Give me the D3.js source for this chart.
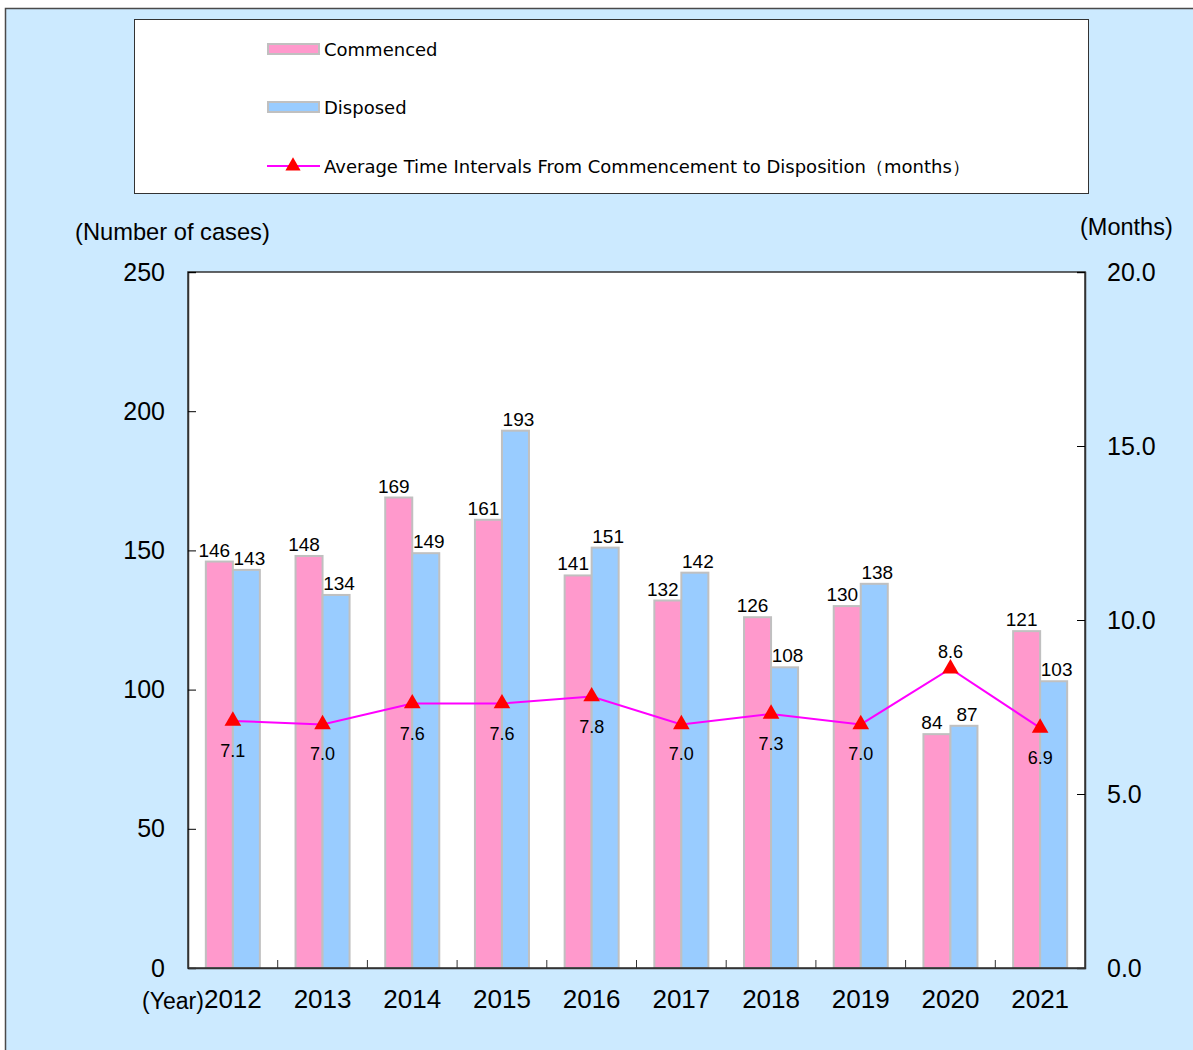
<!DOCTYPE html>
<html>
<head>
  <script src="https://d3js.org/d3.v7.min.js"></script>
  <style>
    body { margin: 0; background: #fff; }
    text { font-family: "Liberation Sans", Arial, sans-serif; fill: #000; }
  </style>
</head>
<body>
<div id="chart"></div>
<script>
  // chart values
  var years = ["2012", "2013", "2014", "2015", "2016", "2017", "2018", "2019", "2020", "2021"];
  var commenced = [146, 148, 169, 161, 141, 132, 126, 130, 84, 121];
  var disposed = [143, 134, 149, 193, 151, 142, 108, 138, 87, 103];
  var avgMonths = [7.1, 7.0, 7.6, 7.6, 7.8, 7.0, 7.3, 7.0, 8.6, 6.9];
  var leftTicks = [0, 50, 100, 150, 200, 250];
  var rightTicks = [0, 5, 10, 15, 20];

  var W = 1193, H = 1050;
  var plot = {left: 188, right: 1085, top: 272, bottom: 968};

  var svg = d3.select("#chart").append("svg")
    .attr("width", W)
    .attr("height", H);

  // background panel
  svg.append("rect")
    .attr("x", 5.5).attr("y", 8.5)
    .attr("width", W + 10).attr("height", H + 10)
    .attr("fill", "#cceaff")
    .attr("stroke", "#4a4a4a")
    .attr("stroke-width", 1.5);

  // legend box
  svg.append("rect")
    .attr("x", 134.5).attr("y", 19.5)
    .attr("width", 954).attr("height", 174)
    .attr("fill", "#fff")
    .attr("stroke", "#333")
    .attr("stroke-width", 1);

  var legendItems = [
    {name: "Commenced", type: "bar", color: "#ff99cc", y: 49},
    {name: "Disposed", type: "bar", color: "#99ccff", y: 107},
    {name: "Average Time Intervals From Commencement to Disposition\uff08months\uff09", type: "line", y: 166}
  ];
  var lg = svg.append("g").selectAll("g").data(legendItems).enter().append("g")
    .attr("transform", d => "translate(0," + d.y + ")");
  lg.filter(d => d.type == "bar").append("rect")
    .attr("x", 268).attr("y", -5)
    .attr("width", 51).attr("height", 10)
    .attr("fill", d => d.color)
    .attr("stroke", "#c0c0c0")
    .attr("stroke-width", 2);
  var lineLg = lg.filter(d => d.type == "line");
  lineLg.append("line")
    .attr("x1", 267).attr("x2", 320)
    .attr("stroke", "#ff00ff").attr("stroke-width", 2);
  lineLg.append("path")
    .attr("transform", "translate(293,0)")
    .attr("d", d3.symbol().type(d3.symbolTriangle).size(100))
    .attr("fill", "#ff0000");
  lg.append("text")
    .attr("x", 324).attr("y", 7)
    .style("font-family", "'DejaVu Sans', sans-serif")
    .style("font-size", "18px")
    .text(d => d.name);

  // scales
  var x = d3.scaleBand()
    .domain(years)
    .range([plot.left, plot.right])
    .paddingInner(0).paddingOuter(0);

  var xSub = d3.scaleBand()
    .domain(["c", "d"])
    .range([0, x.bandwidth()])
    .paddingInner(0)
    .paddingOuter(0.66);

  var yL = d3.scaleLinear().domain([0, 250]).range([plot.bottom, plot.top]);
  var yR = d3.scaleLinear().domain([0, 20]).range([plot.bottom, plot.top]);

  // plot area
  svg.append("rect")
    .attr("x", plot.left).attr("y", plot.top)
    .attr("width", plot.right - plot.left)
    .attr("height", plot.bottom - plot.top)
    .attr("fill", "#fff");

  // bars
  var barData = [];
  years.forEach(function(yr, i) {
    barData.push({year: yr, key: "c", value: commenced[i], color: "#ff99cc"});
    barData.push({year: yr, key: "d", value: disposed[i], color: "#99ccff"});
  });

  svg.append("g").selectAll("rect")
    .data(barData)
    .enter().append("rect")
    .attr("x", d => x(d.year) + xSub(d.key))
    .attr("y", d => yL(d.value))
    .attr("width", xSub.bandwidth())
    .attr("height", d => yL(0) - yL(d.value))
    .attr("fill", d => d.color)
    .attr("stroke", "#c0c0c0")
    .attr("stroke-width", 2);

  svg.append("g").selectAll("text")
    .data(barData)
    .enter().append("text")
    .attr("x", d => x(d.year) + xSub(d.key) + xSub.bandwidth() / 2 + (d.key == "c" ? -5 : 3))
    .attr("y", d => yL(d.value) - 5)
    .attr("text-anchor", "middle")
    .style("font-size", "19px")
    .text(d => d.value);

  // frame
  svg.append("rect")
    .attr("x", plot.left).attr("y", plot.top)
    .attr("width", plot.right - plot.left)
    .attr("height", plot.bottom - plot.top)
    .attr("fill", "none")
    .attr("stroke", "#333")
    .attr("stroke-width", 1.5);

  // left axis
  var gL = svg.append("g")
    .attr("transform", "translate(" + plot.left + ",0)")
    .call(d3.axisLeft(yL).tickValues(leftTicks).tickSize(-8).tickPadding(23));
  gL.select(".domain").attr("stroke", "#333").attr("stroke-width", 1.5);
  gL.selectAll("text").style("font-size", "25px").attr("font-family", "Liberation Sans");

  // right axis
  var gR = svg.append("g")
    .attr("transform", "translate(" + plot.right + ",0)")
    .call(d3.axisRight(yR).tickValues(rightTicks).tickSize(-8).tickPadding(22).tickFormat(d3.format(".1f")));
  gR.select(".domain").attr("stroke", "#333").attr("stroke-width", 1.5);
  gR.selectAll("text").style("font-size", "25px").attr("font-family", "Liberation Sans");

  // bottom axis
  var gB = svg.append("g")
    .attr("transform", "translate(0," + plot.bottom + ")")
    .call(d3.axisBottom(x).tickSize(0).tickPadding(22));
  gB.select(".domain").attr("stroke", "#333").attr("stroke-width", 1.5);
  gB.selectAll("text").style("font-size", "26px").attr("font-family", "Liberation Sans");

  // category separator ticks
  svg.append("g").selectAll("line")
    .data(years.slice(1))
    .enter().append("line")
    .attr("x1", d => x(d)).attr("x2", d => x(d))
    .attr("y1", plot.bottom).attr("y2", plot.bottom - 8)
    .attr("stroke", "#333");

  svg.append("text")
    .attr("x", x(years[0]) + x.bandwidth() / 2 - 29)
    .attr("y", 1009)
    .attr("text-anchor", "end")
    .style("font-size", "23px")
    .text("(Year)");

  // axis titles
  svg.append("text")
    .attr("x", 75).attr("y", 240)
    .style("font-size", "23.7px")
    .text("(Number of cases)");
  svg.append("text")
    .attr("x", 1080).attr("y", 235)
    .style("font-size", "23.5px")
    .text("(Months)");

  // line series
  var line = d3.line()
    .x((d, i) => x(years[i]) + x.bandwidth() / 2)
    .y(d => yR(d));

  svg.append("path")
    .datum(avgMonths)
    .attr("fill", "none")
    .attr("stroke", "#ff00ff")
    .attr("stroke-width", 2)
    .attr("d", line);

  svg.append("g").selectAll("path")
    .data(avgMonths)
    .enter().append("path")
    .attr("transform", (d, i) => "translate(" + (x(years[i]) + x.bandwidth() / 2) + "," + yR(d) + ")")
    .attr("d", d3.symbol().type(d3.symbolTriangle).size(120))
    .attr("fill", "#ff0000");

  svg.append("g").selectAll("text")
    .data(avgMonths)
    .enter().append("text")
    .attr("x", (d, i) => x(years[i]) + x.bandwidth() / 2)
    .attr("y", (d, i) => i == 8 ? yR(d) - 11 : yR(d) + 36)
    .attr("text-anchor", "middle")
    .style("font-size", "18px")
    .text(d => d.toFixed(1));
</script>
</body>
</html>
